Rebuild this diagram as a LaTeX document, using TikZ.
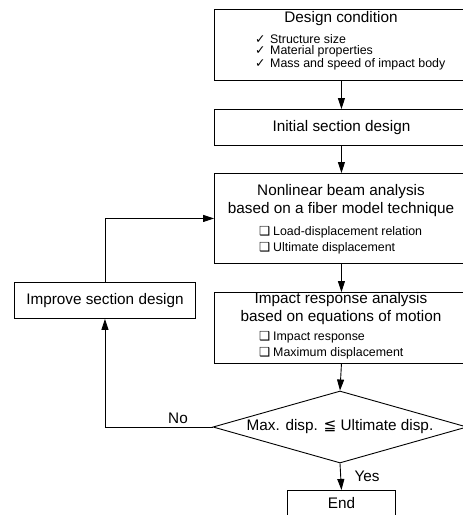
\documentclass[tikz,border=0pt]{standalone}
\usepackage{fontspec}
\setmainfont{Liberation Sans}
\newfontfamily\symfont{DejaVu Sans}
\usetikzlibrary{arrows.meta,shapes.geometric}
\newcommand\chkmark{\makebox[15pt][l]{\symfont ✓}}
\newcommand\sqmark{\makebox[14pt][l]{\symfont ❑}}
\begin{document}
\begin{tikzpicture}[x=1pt,y=-1pt,
  box/.style={draw,line width=0.9pt,inner sep=0pt,minimum width=254pt,anchor=north west,
    font=\fontsize{15.3}{18}\selectfont},
  ttl/.style={inner sep=0pt,font=\fontsize{15.3}{18}\selectfont},
  item/.style={inner sep=0pt,anchor=west,font=\fontsize{12.4}{14}\selectfont},
  arr/.style={-{Triangle[length=11pt,width=7pt]},line width=0.9pt},
  lab/.style={inner sep=0pt,font=\fontsize{15.3}{18}\selectfont}]
\useasboundingbox (0,0) rectangle (463,515);
\clip (0,0) rectangle (463,515);
% boxes
\node[box,minimum height=71pt] (dc) at (214,9) {};
\node[box,minimum height=36pt] (init) at (214,109) {Initial section design};
\node[box,minimum height=90pt] (nl) at (214,173) {};
\node[box,minimum height=71pt] (imp) at (214,292) {};
\node[draw,diamond,aspect=3.53,minimum width=254pt,minimum height=72pt,inner sep=0pt,
  line width=0.9pt,font=\fontsize{15.3}{18}\selectfont] (dia) at (340,427)
  {Max. disp. {\symfont ≦} Ultimate disp.};
\node[box,minimum width=108pt,minimum height=26pt] (end) at (287,490) {End};
\node[box,minimum width=181pt,minimum height=36pt] (improve) at (14,282) {Improve section design};
% texts
\node[ttl] (dct) at (341,18.5) {Design condition};
\node[item] (dc1) at (255,39) {\chkmark Structure size};
\node[item] (dc2) at (255,51.5) {\chkmark Material properties};
\node[item] (dc3) at (255,64) {\chkmark Mass and speed of impact body};
\node[ttl] (nlt1) at (341,192) {Nonlinear beam analysis};
\node[ttl] (nlt2) at (341,210) {based on a fiber model technique};
\node[item] (nl1) at (259,232) {\sqmark Load-displacement relation};
\node[item] (nl2) at (259,248) {\sqmark Ultimate displacement};
\node[ttl] (impt1) at (341,299.5) {Impact response analysis};
\node[ttl] (impt2) at (341,318) {based on equations of motion};
\node[item] (imp1) at (259,337) {\sqmark Impact response};
\node[item] (imp2) at (259,353) {\sqmark Maximum displacement};
% connectors
\draw[arr] (dc.south) -- (init.north);
\draw[arr] (init.south) -- (nl.north);
\draw[arr] (nl.south) -- (imp.north);
\draw[arr] (imp.south) -- (dia.north);
\draw[arr] (dia.south) -- (end.north);
\draw[arr] (dia.west) -| (improve.south);
\draw[arr] (improve.north) |- (nl.west);
\node[lab] (no) at (178,418) {No};
\node[lab] (yes) at (367,476) {Yes};
\end{tikzpicture}
\end{document}
